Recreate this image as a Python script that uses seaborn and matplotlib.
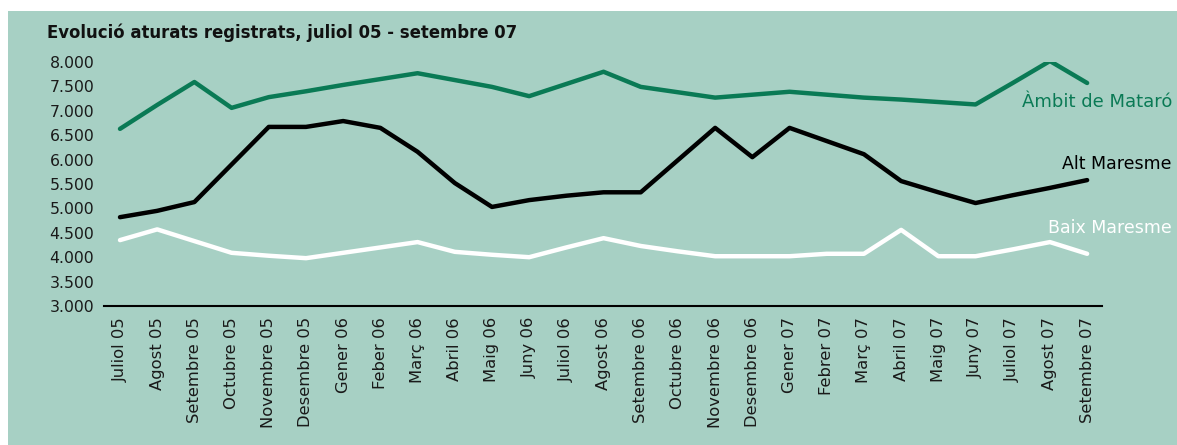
import pandas as pd
import matplotlib.pyplot as plt
import matplotlib.transforms as mtransforms
from matplotlib.patches import Rectangle
import seaborn as sns

sns.set_style("white")
plt.rcParams['font.family'] = ['DejaVu Sans']

# Months shown on the x axis
months = ["Juliol 05", "Agost 05", "Setembre 05", "Octubre 05", "Novembre 05",
          "Desembre 05", "Gener 06", "Feber 06", "Març 06", "Abril 06", "Maig 06",
          "Juny 06", "Juliol 06", "Agost 06", "Setembre 06", "Octubre 06",
          "Novembre 06", "Desembre 06", "Gener 07", "Febrer 07", "Març 07",
          "Abril 07", "Maig 07", "Juny 07", "Juliol 07", "Agost 07", "Setembre 07"]

# Registered unemployed
ambit_mataro = [6630, 7120, 7590, 7060, 7280, 7400, 7530, 7650, 7770, 7630, 7490,
                7300, 7550, 7800, 7490, 7380, 7270, 7330, 7390, 7330, 7270, 7230,
                7180, 7130, 7570, 8020, 7570]
alt_maresme = [4820, 4950, 5130, 5900, 6670, 6670, 6790, 6650, 6160, 5520, 5030,
               5170, 5260, 5330, 5330, 5990, 6650, 6050, 6650, 6380, 6110, 5560,
               5330, 5110, 5270, 5420, 5580]
baix_maresme = [4350, 4570, 4330, 4090, 4030, 3980, 4090, 4200, 4310, 4110, 4050,
                4000, 4200, 4390, 4230, 4120, 4020, 4020, 4020, 4070, 4070, 4560,
                4020, 4020, 4160, 4310, 4070]

series_names = ["Àmbit de Mataró", "Alt Maresme", "Baix Maresme"]
y_ticks = [3000, 3500, 4000, 4500, 5000, 5500, 6000, 6500, 7000, 7500, 8000]
tick_labels = ["3.000", "3.500", "4.000", "4.500", "5.000", "5.500", "6.000",
               "6.500", "7.000", "7.500", "8.000"]

PANEL = "#a7d0c4"
colors = {"Àmbit de Mataró": "#0a7a55", "Alt Maresme": "#000000", "Baix Maresme": "#ffffff"}
label_y = {"Àmbit de Mataró": 7180, "Alt Maresme": 5910, "Baix Maresme": 4600}
label_size = {"Àmbit de Mataró": 13, "Alt Maresme": 12.5, "Baix Maresme": 12.5}

df = pd.DataFrame({"x": list(range(len(months))) * 3,
                   "value": ambit_mataro + alt_maresme + baix_maresme,
                   "serie": [s for s in series_names for _ in months]})

fig = plt.figure(figsize=(11.77, 4.45), dpi=100)
fig.patch.set_facecolor("white")
# teal panel behind everything
fig.add_artist(Rectangle((8 / 1177, 0), 1 - 8 / 1177, 1 - 11 / 445,
                         transform=fig.transFigure, facecolor=PANEL,
                         edgecolor="none", zorder=-10))

ax = fig.add_axes([104 / 1177, 1 - 306 / 445, 998 / 1177, 244 / 445])
ax.set_facecolor("none")
ax.set_zorder(1)
sns.lineplot(data=df, x="x", y="value", hue="serie", palette=colors,
             linewidth=3.2, legend=False, ax=ax)

ax.set_ylim(3000, 8000)
ax.set_xlim(-0.43, 26.4)
ax.set_yticks(y_ticks)
ax.set_yticklabels(tick_labels, fontsize=11.3, color="#1a1a1a")
ax.set_xticks(range(len(months)))
ax.set_xticklabels(months, rotation=90, fontsize=11.8, color="#1a1a1a")
ax.tick_params(axis="y", length=0, pad=7)
ax.tick_params(axis="x", length=0, pad=8)
ax.set_xlabel("")
ax.set_ylabel("")
for side in ["top", "right", "left"]:
    ax.spines[side].set_visible(False)
ax.spines["bottom"].set_color("black")
ax.spines["bottom"].set_linewidth(1.5)

trans = mtransforms.blended_transform_factory(fig.transFigure, ax.transData)
for name in series_names:
    ax.text(1172 / 1177, label_y[name], name, transform=trans, ha="right",
            va="center", fontsize=label_size[name], color=colors[name])

fig.text(47 / 1177, 1 - 33 / 445, "Evolució aturats registrats, juliol 05 - setembre 07",
         fontsize=11.9, fontweight="bold", color="#111111", va="center", ha="left")

fig.savefig("out.png", dpi=100)
